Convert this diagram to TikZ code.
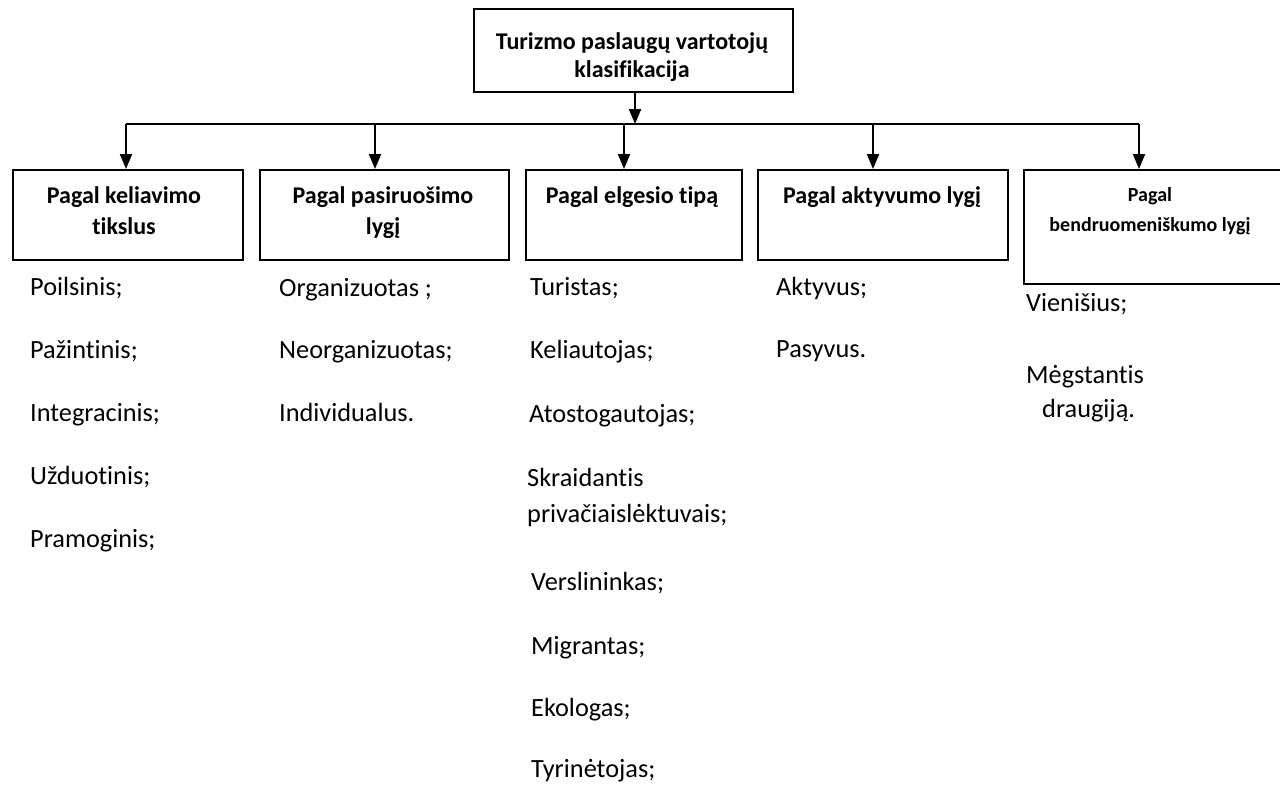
\documentclass[tikz,border=0pt]{standalone}
\usepackage{fontspec}
\setmainfont{Carlito}[Ligatures=NoCommon]
\usetikzlibrary{arrows.meta}
\begin{document}
\begin{tikzpicture}[x=1pt,y=-1pt,
  boxn/.style={draw,line width=2pt,inner sep=0pt,anchor=north west},
  ttl/.style={anchor=base,inner sep=0pt,font=\fontsize{24}{28}\selectfont\bfseries},
  ttls/.style={anchor=base,inner sep=0pt,font=\fontsize{20}{24}\selectfont\bfseries},
  item/.style={anchor=base west,inner sep=0pt,font=\fontsize{26.3}{30}\selectfont},
  conn/.style={line width=2pt},
  arr/.style={line width=2pt,-{Triangle[length=15pt,width=12pt]}}]
\useasboundingbox (0,0) rectangle (1280,785);
\begin{scope}
\clip (0,0) rectangle (1280,785);
% boxes
\node[boxn,minimum width=319pt,minimum height=83pt] (top) at (473,8) {};
\node[boxn,minimum width=230pt,minimum height=90pt] (b1) at (12,169) {};
\node[boxn,minimum width=249pt,minimum height=90pt] (b2) at (259,169) {};
\node[boxn,minimum width=216pt,minimum height=90pt] (b3) at (525,169) {};
\node[boxn,minimum width=250pt,minimum height=90pt] (b4) at (757,169) {};
\node[boxn,minimum width=275pt,minimum height=114pt] (b5) at (1023,169) {};
% titles
\node[ttl] (t1) at (632,49) {Turizmo paslaugų vartotojų};
\node[ttl] (t2) at (632,77) {klasifikacija};
\node[ttl] (b1a) at (124,203) {Pagal keliavimo};
\node[ttl] (b1b) at (124,234) {tikslus};
\node[ttl] (b2a) at (383,203) {Pagal pasiruošimo};
\node[ttl] (b2b) at (383,234) {lygį};
\node[ttl] (b3a) at (632,203) {Pagal elgesio tipą};
\node[ttl] (b4a) at (882,203) {Pagal aktyvumo lygį};
\node[ttls] (b5a) at (1150,201) {Pagal};
\node[ttls] (b5b) at (1150,231) {bendruomeniškumo lygį};
% connectors
\coordinate (bus) at (635,124);
\coordinate (a1) at (126,124);
\coordinate (a2) at (375,124);
\coordinate (a3) at (624,124);
\coordinate (a4) at (873,124);
\coordinate (a5) at (1139,124);
\draw[arr] (top.south -| bus) -- (bus);
\draw[conn] (a1) -- (a5);
\draw[arr] (a1) -- (a1 |- b1.north);
\draw[arr] (a2) -- (a2 |- b2.north);
\draw[arr] (a3) -- (a3 |- b3.north);
\draw[arr] (a4) -- (a4 |- b4.north);
\draw[arr] (a5) -- (a5 |- b5.north);
% items column 1
\node[item] (i11) at (30,295) {Poilsinis;};
\node[item] (i12) at (30,358) {Pažintinis;};
\node[item] (i13) at (30,421) {Integracinis;};
\node[item] (i14) at (30,484) {Užduotinis;};
\node[item] (i15) at (30,547) {Pramoginis;};
% column 2
\node[item] (i21) at (279,296) {Organizuotas ;};
\node[item] (i22) at (279,358) {Neorganizuotas;};
\node[item] (i23) at (279,421) {Individualus.};
% column 3
\node[item] (i31) at (530,295) {Turistas;};
\node[item] (i32) at (530,358) {Keliautojas;};
\node[item] (i33) at (529,422) {Atostogautojas;};
\node[item] (i34) at (527,486) {Skraidantis};
\node[item] (i35) at (527,522) {privačiaislėktuvais;};
\node[item] (i36) at (531,590) {Verslininkas;};
\node[item] (i37) at (531,654) {Migrantas;};
\node[item] (i38) at (531,716) {Ekologas;};
\node[item] (i39) at (531,777) {Tyrinėtojas;};
% column 4
\node[item] (i41) at (776,295) {Aktyvus;};
\node[item] (i42) at (776,357) {Pasyvus.};
% column 5
\node[item] (i51) at (1026,311) {Vienišius;};
\node[item] (i52) at (1026,383) {Mėgstantis};
\node[item] (i53) at (1042,417) {draugiją.};
\end{scope}
\end{tikzpicture}
\end{document}
